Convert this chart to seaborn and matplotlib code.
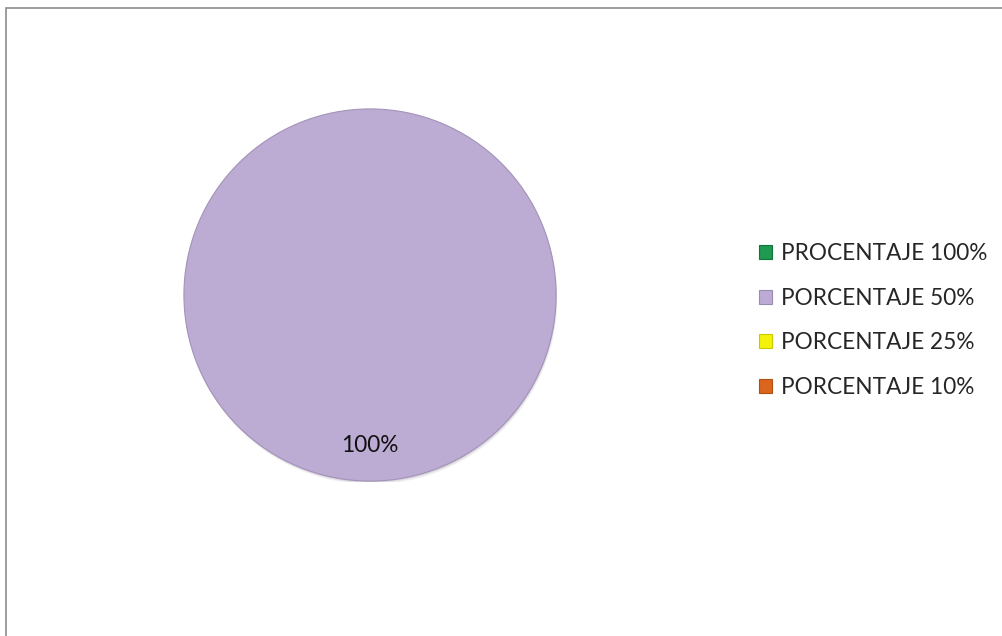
import matplotlib
matplotlib.use("Agg")
import matplotlib.pyplot as plt
import seaborn as sns
from matplotlib.patches import Rectangle, Circle

sns.set_theme(style="white")
plt.rcParams['font.family'] = ['Lato', 'DejaVu Sans']

categories = ["PROCENTAJE 100%", "PORCENTAJE 50%", "PORCENTAJE 25%", "PORCENTAJE 10%"]
values = [0, 100, 0, 0]
colors = ["#1f9a50", "#bcabd3", "#f2f20a", "#d9661c"]
edge_colors = ["#11753a", "#9a89b2", "#c9c900", "#b04f10"]

fig = plt.figure(figsize=(10.02, 6.36), dpi=100)
fig.patch.set_facecolor("white")

# chart area border
fig.add_artist(Rectangle((5.5 / 1002, -0.1), 1.2, (636 - 7.5) / 636 + 0.1,
                         transform=fig.transFigure, fill=False,
                         edgecolor="#8c8c8c", linewidth=1.2))

cx, cy, r = 370, 295, 187
ax = fig.add_axes([(cx - r) / 1002, (636 - cy - r) / 636, 2 * r / 1002, 2 * r / 636])


def pct_label(p):
    return f"{p:.0f}%" if p > 0 else ""


# soft drop shadow under the pie
for off, a in [(0.018, 0.06), (0.012, 0.08), (0.006, 0.12)]:
    ax.add_patch(Circle((off * 0.4, -off), 1.0, facecolor="#3a3050", alpha=a,
                        edgecolor="none", zorder=0))

wedges, texts, autotexts = ax.pie(
    values, colors=colors, startangle=90, counterclock=False,
    autopct=pct_label, pctdistance=0.81,
    wedgeprops=dict(linewidth=0),
    textprops=dict(fontsize=16.3, color="#111111"),
)
ax.add_patch(Circle((0, 0), 1.0, fill=False, edgecolor="#a393b8",
                    linewidth=0.8, zorder=3))
ax.set_xlim(-1.005, 1.005)
ax.set_ylim(-1.005, 1.005)
ax.set_aspect("equal")
ax.axis("off")

handles = [Rectangle((0, 0), 1, 1, facecolor=c, edgecolor=e, linewidth=0.8)
           for c, e in zip(colors, edge_colors)]
fig.legend(handles, categories, loc="center left",
           bbox_to_anchor=(758.5 / 1002, 1 - 320.5 / 636),
           frameon=False, fontsize=16.3, handlelength=0.58, handleheight=0.58,
           handletextpad=0.40, labelspacing=1.05, borderaxespad=0, borderpad=0)

fig.savefig("out.png", dpi=100, facecolor="white")
